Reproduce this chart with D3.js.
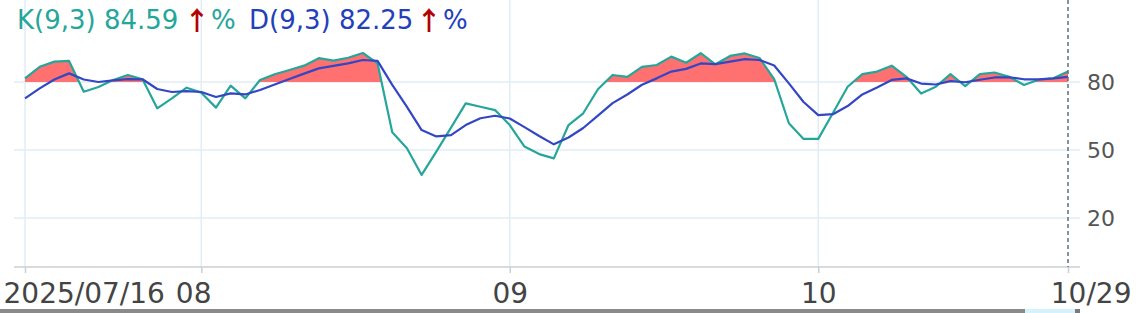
<!DOCTYPE html>
<html>
<head>
<meta charset="utf-8">
<script src="https://cdn.jsdelivr.net/npm/d3@7/dist/d3.min.js"></script>
<style>
html,body{margin:0;padding:0;background:#fff;}
svg{display:block;font-family:"DejaVu Sans",sans-serif;}
</style>
</head>
<body>
<svg id="chart" width="1138" height="313"></svg>
<script>
// Trading dates (Taiwan market) 2025/07/16 .. 2025/10/29
const dates = [
 "2025-07-16","2025-07-17","2025-07-18","2025-07-21","2025-07-22","2025-07-23","2025-07-24","2025-07-25","2025-07-28","2025-07-29","2025-07-30","2025-07-31",
 "2025-08-01","2025-08-04","2025-08-05","2025-08-06","2025-08-07","2025-08-08","2025-08-11","2025-08-12","2025-08-13","2025-08-14","2025-08-15","2025-08-18","2025-08-19","2025-08-20","2025-08-21","2025-08-22","2025-08-25","2025-08-26","2025-08-27","2025-08-28","2025-08-29",
 "2025-09-01","2025-09-02","2025-09-03","2025-09-04","2025-09-05","2025-09-08","2025-09-09","2025-09-10","2025-09-11","2025-09-12","2025-09-15","2025-09-16","2025-09-17","2025-09-18","2025-09-19","2025-09-22","2025-09-23","2025-09-24","2025-09-25","2025-09-26","2025-09-30",
 "2025-10-01","2025-10-02","2025-10-03","2025-10-07","2025-10-08","2025-10-09","2025-10-13","2025-10-14","2025-10-15","2025-10-16","2025-10-17","2025-10-20","2025-10-21","2025-10-22","2025-10-23","2025-10-27","2025-10-28","2025-10-29"
];
const kValues = [
 81.6,86.7,89.0,89.3,75.7,77.8,80.9,83.1,81.2,68.4,72.8,77.5,
 75.3,68.7,78.4,72.8,80.9,83.4,85.3,87.2,90.5,89.4,90.7,92.8,88.2,57.8,50.8,39.0,49.3,59.9,70.6,69.1,67.6,
 61.0,51.5,48.2,46.3,61.0,66.2,76.8,83.1,82.3,86.7,87.5,91.2,88.5,92.7,87.8,91.5,92.6,90.6,81.3,61.8,54.9,
 54.9,66.3,77.9,83.5,84.6,87.2,82.3,74.9,77.9,83.5,78.2,83.5,84.2,82.3,78.7,81.0,81.6,84.59
];
const dValues = [
 72.8,77.2,81.1,83.8,81.1,80.0,80.7,81.3,81.2,76.9,75.6,76.0,
 75.6,73.4,75.0,74.5,76.5,78.9,81.3,83.7,86.0,87.1,88.2,89.7,89.3,78.7,69.0,58.8,56.0,56.6,61.0,64.0,65.1,
 63.9,60.1,56.2,52.5,55.5,59.7,65.2,70.7,74.5,78.8,81.6,84.6,85.8,88.2,87.9,89.0,90.1,89.7,87.3,79.4,71.2,
 65.4,65.8,69.4,74.5,77.6,80.9,81.6,79.3,78.9,80.4,79.9,81.0,82.0,82.1,81.2,81.2,81.6,82.25
];
const yTicks = [20, 50, 80];
const xTickDates = ["2025-07-16","2025-08-01","2025-09-01","2025-10-01","2025-10-29"];
const xTickLabels = ["2025/07/16","08","09","10","10/29"];
const threshold = 80;
const legendK = {label:"K(9,3) 84.59", arrow:"↑", unit:"%"};
const legendD = {label:"D(9,3) 82.25", arrow:"↑", unit:"%"};

const kColor = "#26a69a", dColor = "#3346c4", fillColor = "#ff7070";
const svg = d3.select("#chart");
const W = 1138;
const x = d3.scalePoint().domain(dates).range([25, 1068]);
const y = d3.scaleLinear().domain([50, 80]).range([150, 82]);
const plotLeft = 14, plotRight = 1080, plotTop = 0, plotBottom = 267;

// grid
const grid = svg.append("g");
grid.selectAll("line.h").data(yTicks).join("line")
  .attr("x1", plotLeft).attr("x2", plotRight)
  .attr("y1", d => y(d)).attr("y2", d => y(d))
  .attr("stroke", "#e1edf5").attr("stroke-width", 1.5);
grid.selectAll("line.v").data(xTickDates.slice(0, 4)).join("line")
  .attr("x1", d => x(d)).attr("x2", d => x(d))
  .attr("y1", plotTop).attr("y2", plotBottom)
  .attr("stroke", "#e1edf5").attr("stroke-width", 1.5);

// fill above threshold between K and 80
const data = dates.map((d, i) => ({d, k: kValues[i], dv: dValues[i]}));
svg.append("clipPath").attr("id", "above").append("rect")
  .attr("x", 0).attr("y", 0).attr("width", W).attr("height", y(threshold));
svg.append("path").datum(data)
  .attr("clip-path", "url(#above)")
  .attr("fill", fillColor)
  .attr("d", d3.area().x(p => x(p.d)).y0(y(threshold)).y1(p => y(p.k)));

// lines
svg.append("path").datum(data).attr("fill", "none").attr("stroke", kColor)
  .attr("stroke-width", 2.2).attr("stroke-linejoin", "round")
  .attr("d", d3.line().x(p => x(p.d)).y(p => y(p.k)));
svg.append("path").datum(data).attr("fill", "none").attr("stroke", dColor)
  .attr("stroke-width", 2.2).attr("stroke-linejoin", "round")
  .attr("d", d3.line().x(p => x(p.d)).y(p => y(p.dv)));

// y axis (right)
const yAxis = svg.append("g").attr("transform", `translate(1087,0)`)
  .call(d3.axisRight(y).tickValues(yTicks).tickSize(0).tickPadding(0));
yAxis.select(".domain").remove();
yAxis.selectAll("text").attr("font-size", 22).attr("fill", "#555")
  .attr("font-family", "DejaVu Sans");

// x axis
const xAxis = svg.append("g").attr("transform", `translate(0,${plotBottom})`)
  .call(d3.axisBottom(x).tickValues(xTickDates)
    .tickFormat((d, i) => xTickLabels[i]).tickSize(6).tickSizeOuter(0).tickPadding(10));
xAxis.select(".domain").remove();
xAxis.append("line").attr("x1", plotLeft).attr("x2", plotRight).attr("y1", 0).attr("y2", 0)
  .attr("stroke", "#cfcfcf").attr("stroke-width", 1.5);
xAxis.selectAll(".tick line").attr("stroke", "#cfcfcf").attr("stroke-width", 1.5);
xAxis.selectAll("text").attr("font-size", 28).attr("fill", "#444")
  .attr("font-family", "DejaVu Sans");
xAxis.selectAll(".tick").each(function(d, i) {
  const t = d3.select(this).select("text");
  if (i === 0) t.attr("text-anchor", "start").attr("x", 3 - x(d));
  if (i === 1) t.attr("text-anchor", "end").attr("x", 211 - x(d));
  if (i === xTickDates.length - 1) t.attr("text-anchor", "end").attr("x", 1131 - x(d));
});

// crosshair dashed line at last point
svg.append("line")
  .attr("x1", x(dates[dates.length - 1])).attr("x2", x(dates[dates.length - 1]))
  .attr("y1", 0).attr("y2", plotBottom)
  .attr("stroke", "#5d6d88").attr("stroke-width", 1.5).attr("stroke-dasharray", "4,3");

// legend
const leg = svg.append("g").attr("font-size", 26);
function legendItem(item, x0, xArrow, xUnit, color) {
  leg.append("text").attr("x", x0).attr("y", 29).attr("fill", color).text(item.label);
  leg.append("text").attr("x", xArrow).attr("y", 30).attr("fill", "#b30000")
    .attr("font-family", "Noto Sans CJK SC").attr("font-weight", "bold")
    .attr("font-size", 26).text(item.arrow);
  leg.append("text").attr("x", xUnit).attr("y", 29).attr("fill", color).text(item.unit);
}
legendItem(legendK, 17, 184, 211, kColor);
legendItem(legendD, 249, 416, 443, "#2340bb");

// bottom scrollbar
svg.append("rect").attr("x", 0).attr("y", 309).attr("width", 1025).attr("height", 4).attr("fill", "#8a8a8a");
svg.append("rect").attr("x", 1025).attr("y", 309).attr("width", 50).attr("height", 4).attr("fill", "#d6f2fa");
svg.append("rect").attr("x", 1075).attr("y", 309).attr("width", 5).attr("height", 4).attr("fill", "#7a7a7a");
</script>
</body>
</html>
